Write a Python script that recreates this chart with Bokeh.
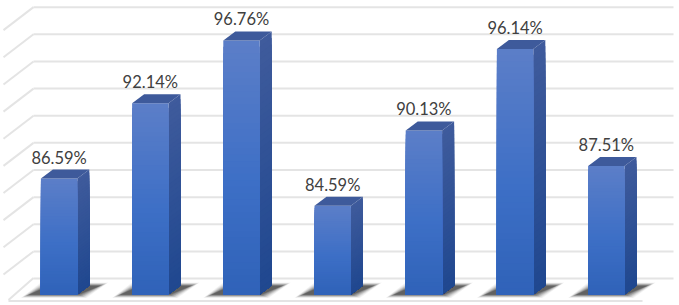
from bokeh.plotting import figure
from bokeh.embed import file_html
from bokeh.resources import INLINE
from bokeh.core.properties import value as fixed
from bokeh.models import ColumnDataSource, Range1d

values = [86.59, 92.14, 96.76, 84.59, 90.13, 96.14, 87.51]
labels = ["86.59%", "92.14%", "96.76%", "84.59%", "90.13%", "96.14%", "87.51%"]
grid_values = [78, 80, 82, 84, 86, 88, 90, 92, 94, 96, 98]
base = 78.04

W, H = 679, 305
PX_X = 91.2      # pixels per category
PX_Y = 13.57     # pixels per value unit
X0, Y86 = 58.6, 178.0


def xu(px):
    return px / PX_X


def yu(px):
    return px / PX_Y


p = figure(width=W, height=H, output_backend="svg", toolbar_location=None,
           x_range=Range1d((0 - X0) / PX_X, (W - X0) / PX_X),
           y_range=Range1d(86.59 - (H - Y86) / PX_Y, 86.59 + Y86 / PX_Y),
           min_border=0, outline_line_color=None, background_fill_color="white")
p.axis.visible = False
p.grid.visible = False
p.styles = {"position": "absolute", "left": "0px", "top": "0px"}

half = xu(18.2)
dx, dy = xu(12), yu(9)
n = len(values)

# wall + floor lines
back_dy = yu(16.5)
left_x, right_x = xu(33 - X0), xu(673 - X0)
p.multi_line([[left_x, right_x] for g in grid_values],
             [[g + back_dy, g + back_dy] for g in grid_values],
             line_color="#e4e4e4", line_width=2)
p.multi_line([[left_x, left_x - xu(30)] for g in grid_values[1:]],
             [[g + back_dy, g + back_dy - yu(23)] for g in grid_values[1:]],
             line_color="#e4e4e4", line_width=2)
p.line([left_x, left_x - xu(25)], [base + back_dy, base + back_dy - yu(22)],
       line_color="#e4e4e4", line_width=2)
p.line([left_x - xu(25), xu(642 - X0)], [base + back_dy - yu(23), base + back_dy - yu(23)],
       line_color="#e4e4e4", line_width=2)

# soft floor shadows
for grow, alpha in [(6, 0.05), (5, 0.06), (4, 0.08), (3, 0.10), (2, 0.12), (1, 0.14), (0, 0.16), (-1, 0.2), (-2, 0.25)]:
    g = xu(grow)
    gy = yu(grow * 0.4)
    xs, ys = [], []
    for i in range(n):
        c = float(i)
        xs.append([c - half - xu(14) - g, c + half + xu(3) + g,
                   c + half + xu(25) + g, c - half + xu(6) - g])
        ys.append([base - yu(1) - gy, base - yu(1) - gy, base + yu(9.5) + gy, base + yu(9.5) + gy])
    p.patches(xs, ys, fill_color="#262626", fill_alpha=alpha, line_color=None)


def mix(a, b, t):
    ca = [int(a[k:k + 2], 16) for k in (1, 3, 5)]
    cb = [int(b[k:k + 2], 16) for k in (1, 3, 5)]
    return "#%02x%02x%02x" % tuple(round(u + (w - u) * t) for u, w in zip(ca, cb))


STEPS = 40
for i, v in enumerate(values):
    c = float(i)
    lefts, rights, tops, bottoms, fills = [], [], [], [], []
    sx, sy, sfill = [], [], []
    # painted from the top colour downwards, each strip running to the base, so no seams show
    for s in range(STEPS):
        t0 = s / STEPS
        hi = v + (base - v) * t0
        lefts.append(c - half)
        rights.append(c + half)
        tops.append(hi)
        bottoms.append(base)
        fills.append(mix("#5b7ec8", "#3d6fc6", t0 / 0.55) if t0 < 0.55 else mix("#3d6fc6", "#2f62b8", (t0 - 0.55) / 0.45))
        sx.append([c + half, c + half + dx, c + half + dx, c + half])
        sy.append([base, base + dy, hi + dy, hi])
        sfill.append(mix("#3f5b9c", "#1f478f", t0))
    p.patches(sx, sy, fill_color=sfill, line_color=None)
    p.quad(left=lefts, right=rights, top=tops, bottom=bottoms, fill_color=fills, line_color=None)
    p.patch([c - half, c + half, c + half + dx, c - half + dx],
            [v, v, v + dy, v + dy], fill_color="#3e5a9b", line_color=None)

src = ColumnDataSource(dict(x=list(range(n)), y=values, t=labels))
p.text("x", "y", text="t", source=src, text_align="center", text_baseline="alphabetic",
       y_offset=-21, text_font=fixed("Lato"), text_font_size="16.5px", text_color="#404040")

open("out.html", "w").write(file_html(p, INLINE))
